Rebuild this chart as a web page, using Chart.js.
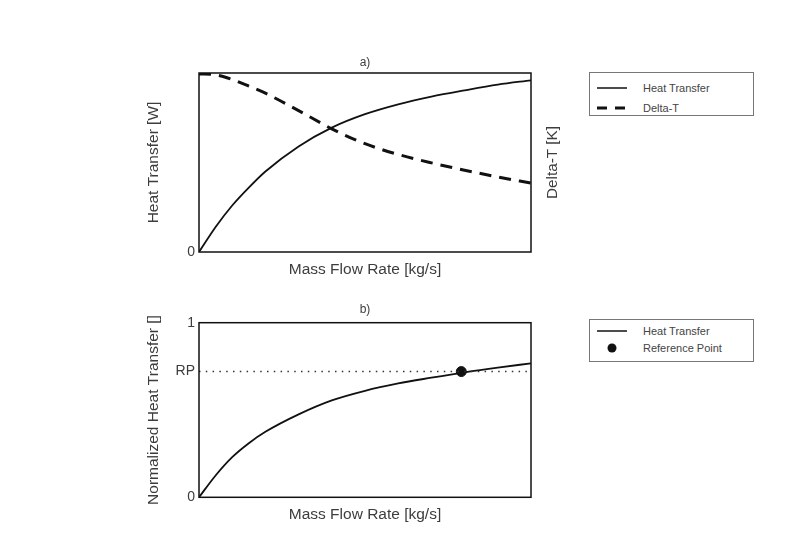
<!DOCTYPE html>
<html>
<head>
<meta charset="utf-8">
<script src="https://cdn.jsdelivr.net/npm/chart.js@4"></script>
<style>
  body { margin: 0; background: #fff; font-family: "Liberation Sans", Arial, sans-serif; }
  #wrap { position: relative; width: 800px; height: 546px; overflow: hidden; }
  #c1 { position: absolute; left: 0; top: 0; }
  #c2 { position: absolute; left: 0; top: 285px; }
  .legend { position: absolute; left: 589px; width: 165px; border: 1px solid #777; background: #fff; box-sizing: border-box; }
  .row { position: absolute; left: 0; width: 100%; height: 16px; }
  .row svg { position: absolute; left: 7px; top: 0; }
  .row span { position: absolute; left: 53px; top: 0; line-height: 16px; font-size: 11px; color: #444; }
</style>
</head>
<body>
<div id="wrap">
  <canvas id="c1" width="800" height="285"></canvas>
  <canvas id="c2" width="800" height="245"></canvas>

  <div class="legend" style="top:72px; height:44px;">
    <div class="row" style="top:7px;">
      <svg width="32" height="16"><line x1="0" y1="8" x2="30" y2="8" stroke="#111" stroke-width="1.5"/></svg>
      <span>Heat Transfer</span>
    </div>
    <div class="row" style="top:27px;">
      <svg width="32" height="16"><line x1="0" y1="8" x2="30" y2="8" stroke="#111" stroke-width="3" stroke-dasharray="10 8"/></svg>
      <span>Delta-T</span>
    </div>
  </div>

  <div class="legend" style="top:319px; height:43px;">
    <div class="row" style="top:3px;">
      <svg width="32" height="16"><line x1="0" y1="8" x2="30" y2="8" stroke="#111" stroke-width="1.5"/></svg>
      <span>Heat Transfer</span>
    </div>
    <div class="row" style="top:20px;">
      <svg width="32" height="16"><circle cx="15" cy="8" r="4.5" fill="#111"/></svg>
      <span>Reference Point</span>
    </div>
  </div>
</div>

<script>
// data (normalised)
const flowRate = [0, 0.05, 0.1, 0.15, 0.2, 0.3, 0.4, 0.5, 0.6, 0.7, 0.8, 0.9, 1.0];
const heatTransferA = [0, 0.14, 0.26, 0.36, 0.45, 0.59, 0.695, 0.77, 0.825, 0.868, 0.903, 0.935, 0.959];
const deltaT = [0.995, 0.99, 0.964, 0.927, 0.887, 0.79, 0.688, 0.605, 0.545, 0.498, 0.457, 0.419, 0.385];
const heatTransferB = [0, 0.125, 0.23, 0.31, 0.375, 0.475, 0.555, 0.61, 0.652, 0.685, 0.716, 0.743, 0.767];
const refPointX = [0.79];
const refPointY = [0.72];
const rpLineX = [0, 1];
const rpLineY = [0.72, 0.72];

const tickValuesA = [0];
const tickLabelsA = ['0'];
const tickValuesB = [0, 0.72, 1];
const tickLabelsB = ['0', 'RP', '1'];

const textColor = '#3d3d3d';
const fontFamily = '"Liberation Sans", Arial, sans-serif';

Chart.defaults.font.family = fontFamily;
Chart.defaults.color = textColor;

const pts = (xs, ys) => xs.map((x, i) => ({ x: x, y: ys[i] }));

// box around the plot area
const framePlugin = {
  id: 'frame',
  afterDraw(chart) {
    const { ctx, chartArea: a } = chart;
    ctx.save();
    ctx.strokeStyle = '#111';
    ctx.lineWidth = 1.5;
    ctx.strokeRect(a.left, a.top, a.right - a.left, a.bottom - a.top);
    ctx.restore();
  }
};

// right axis title, reads bottom to top like the left one
const rightTitlePlugin = {
  id: 'rightTitle',
  afterDraw(chart) {
    const { ctx, chartArea: a } = chart;
    ctx.save();
    ctx.translate(a.right + 22, (a.top + a.bottom) / 2);
    ctx.rotate(-Math.PI / 2);
    ctx.font = '15.3px ' + fontFamily;
    ctx.fillStyle = textColor;
    ctx.textAlign = 'center';
    ctx.textBaseline = 'middle';
    ctx.fillText('Delta-T [K]', 0, 0);
    ctx.restore();
  }
};

const xAxis = {
  type: 'linear',
  min: 0,
  max: 1,
  grid: { display: false, drawTicks: false },
  border: { display: false },
  ticks: { display: false },
  title: { display: true, text: 'Mass Flow Rate [kg/s]', font: { size: 15.5 }, padding: { top: 0, bottom: 5.7 } },
  afterFit: (s) => { s.height = 33; }
};

function yAxis(title, values, labels) {
  return {
    type: 'linear',
    position: 'left',
    min: 0,
    max: 1,
    grid: { display: false, drawTicks: false },
    border: { display: false },
    afterBuildTicks: (s) => { s.ticks = values.map(v => ({ value: v })); },
    ticks: {
      autoSkip: false,
      padding: 4,
      font: { size: 14 },
      callback: (v, i) => labels[i]
    },
    title: { display: true, text: title, font: { size: 15.5 }, padding: { top: 14.7, bottom: 0 } },
    afterFit: (s) => { s.width = 69; }
  };
}

const common = {
  responsive: false,
  animation: false,
  events: [],
  elements: { point: { radius: 0 }, line: { cubicInterpolationMode: 'monotone' } }
};

new Chart(document.getElementById('c1'), {
  type: 'line',
  data: {
    datasets: [
      {
        label: 'Heat Transfer',
        data: pts(flowRate, heatTransferA),
        borderColor: '#111',
        borderWidth: 1.8,
        yAxisID: 'y'
      },
      {
        label: 'Delta-T',
        data: pts(flowRate, deltaT),
        borderColor: '#111',
        borderWidth: 3,
        borderDash: [12, 8],
        yAxisID: 'y2'
      }
    ]
  },
  options: {
    ...common,
    layout: { padding: { left: 130, right: 229, top: 0, bottom: 0 } },
    scales: {
      x: xAxis,
      y: yAxis('Heat Transfer [W]', tickValuesA, tickLabelsA),
      y2: {
        type: 'linear',
        position: 'right',
        min: 0,
        max: 1,
        grid: { display: false, drawTicks: false },
        border: { display: false },
        ticks: { display: false },
        afterFit: (s) => { s.width = 40; }
      }
    },
    plugins: {
      legend: { display: false },
      tooltip: { enabled: false },
      title: {
        display: true,
        text: 'a)',
        fullSize: false,
        font: { size: 12, weight: 'normal' },
        color: textColor,
        padding: { top: 55.8, bottom: 2.8 }
      }
    }
  },
  plugins: [framePlugin, rightTitlePlugin]
});

new Chart(document.getElementById('c2'), {
  type: 'line',
  data: {
    datasets: [
      {
        label: 'RP',
        data: pts(rpLineX, rpLineY),
        borderColor: '#333',
        borderWidth: 1.5,
        borderDash: [1.5, 5.3]
      },
      {
        label: 'Heat Transfer',
        data: pts(flowRate, heatTransferB),
        borderColor: '#111',
        borderWidth: 1.8
      },
      {
        label: 'Reference Point',
        data: pts(refPointX, refPointY),
        showLine: false,
        pointRadius: 5,
        pointBackgroundColor: '#111',
        pointBorderColor: '#111'
      }
    ]
  },
  options: {
    ...common,
    layout: { padding: { left: 130, right: 269, top: 0, bottom: 0 } },
    scales: {
      x: { ...xAxis, afterFit: (s) => { s.height = 32.7; } },
      y: yAxis('Normalized Heat Transfer []', tickValuesB, tickLabelsB)
    },
    plugins: {
      legend: { display: false },
      tooltip: { enabled: false },
      title: {
        display: true,
        text: 'b)',
        fullSize: false,
        font: { size: 12, weight: 'normal' },
        color: textColor,
        padding: { top: 17.8, bottom: 5.5 }
      }
    }
  },
  plugins: [framePlugin]
});
</script>
</body>
</html>
